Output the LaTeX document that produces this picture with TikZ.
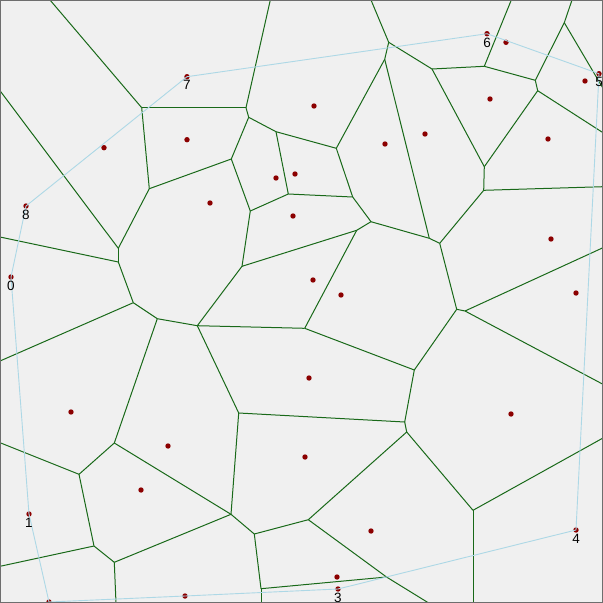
\documentclass[tikz,border=0pt]{standalone}
\usepackage{fontspec}
\setmainfont{Liberation Sans}
\definecolor{bgc}{RGB}{240,240,240}
\definecolor{edgec}{RGB}{25,105,25}
\definecolor{hullc}{RGB}{173,216,230}
\definecolor{dotc}{RGB}{139,0,0}
\definecolor{framec}{RGB}{110,110,110}
\begin{document}
\begin{tikzpicture}[x=1pt,y=-1pt,
  vedge/.style={draw=edgec,line width=1pt},
  hull/.style={draw=hullc,line width=0.9pt,line join=round},
  site/.style={circle,fill=dotc,inner sep=0pt,minimum size=5.4pt},
  lbl/.style={anchor=north,inner sep=0pt,font=\fontsize{13.5}{14}\selectfont,text=black}]
\useasboundingbox (0,0) rectangle (603,603);
\fill[bgc] (0,0) rectangle (603,603);
\begin{scope}
\clip (0,0) rectangle (603,603);
% boundary coordinates
\coordinate (t1) at (50,0);
\coordinate (t2) at (270.3,0);
\coordinate (t3) at (371,0);
\coordinate (t4) at (511.3,0);
\coordinate (t5) at (572,0);
\coordinate (r1) at (603,88.3);
\coordinate (r2) at (603,132.7);
\coordinate (r3) at (603,186.7);
\coordinate (r4) at (603,247.7);
\coordinate (r5) at (603,384.3);
\coordinate (r6) at (603,438);
\coordinate (b1) at (473,603);
\coordinate (b2) at (428.7,603);
\coordinate (b3) at (261,603);
\coordinate (b4) at (116,603);
\coordinate (l1) at (0,90.7);
\coordinate (l2) at (0,237);
\coordinate (l3) at (0,361);
\coordinate (l4) at (0,442.7);
\coordinate (l5) at (0,566.3);
% voronoi vertices
\coordinate (A) at (141.7,107.7);
\coordinate (B) at (246,107.7);
\coordinate (C) at (248.7,117.3);
\coordinate (D) at (276,131.7);
\coordinate (E) at (231.3,159);
\coordinate (F) at (149.3,188.7);
\coordinate (G) at (118.3,248.3);
\coordinate (H) at (118.3,262);
\coordinate (I) at (133.3,302.7);
\coordinate (J) at (157.3,318.7);
\coordinate (K) at (197.3,325.7);
\coordinate (L) at (250.3,211);
\coordinate (M) at (288.3,194);
\coordinate (N) at (336.3,148.3);
\coordinate (O) at (352.7,197);
\coordinate (P) at (371,221.7);
\coordinate (Q) at (356.7,230.3);
\coordinate (R) at (242,266.3);
\coordinate (S) at (304.7,328.3);
\coordinate (T) at (384.7,59.3);
\coordinate (U) at (388.7,42.3);
\coordinate (V) at (432,69);
\coordinate (W) at (484.3,66.3);
\coordinate (X) at (535.3,80.3);
\coordinate (Y) at (537.7,90.7);
\coordinate (Z) at (564.3,22.7);
\coordinate (AA) at (484.3,166.7);
\coordinate (AB) at (483.7,190.3);
\coordinate (AC) at (429.3,238.3);
\coordinate (AD) at (439.7,243.3);
\coordinate (AE) at (456.7,309.3);
\coordinate (AF) at (465,311);
\coordinate (AG) at (414.3,370);
\coordinate (AH) at (404.7,422);
\coordinate (AI) at (406.7,432);
\coordinate (AJ) at (473,510.3);
\coordinate (AK) at (238.7,413);
\coordinate (AN) at (114.3,443);
\coordinate (AO) at (79,474.3);
\coordinate (AP) at (94,546);
\coordinate (AQ) at (114.3,562.3);
\coordinate (AR) at (231,514.3);
\coordinate (AS) at (254.3,534);
\coordinate (AT) at (308.3,519.7);
\coordinate (AU) at (261,588.7);
\coordinate (AV) at (386.5,577);
% voronoi edges
\foreach \a/\b in {t1/A, A/B, B/t2, B/C, C/D, C/E, E/F, F/A, F/G, l1/G, G/H, l2/H, H/I, I/l3, I/J, J/K, J/AN,
  E/L, L/M, L/R, D/M, D/N, M/O, N/O, N/T, T/U, U/t3, U/V, V/W, W/t4, W/X, X/Y, X/Z, Z/t5, Z/r1, Y/r2, Y/AA,
  V/AA, AA/AB, AB/r3, AB/AD, T/AC, O/P, P/Q, P/AC, AC/AD, Q/R, Q/S, R/K, K/S, K/AK, AD/AE, AE/AF, AF/r4, AF/r5,
  AE/AG, S/AG, AG/AH, AK/AH, AH/AI, AI/AT, AI/AJ, AJ/r6, AJ/b1, AN/AO, AN/AR, AO/l4, AO/AP, AP/l5, AP/AQ,
  AQ/AR, AQ/b4, AK/AR, AR/AS, AS/AT, AS/AU, AT/AV, AU/AV, AU/b3, AV/b2}
  {\draw[vedge] (\a) -- (\b);}
% sites
\foreach \p [count=\i] in {(187,139.7), (104,147.7), (210,203), (276,178), (295,174), (293,216), (314,106),
  (385,144), (425,134), (490,99), (548,139), (551,239), (576,293), (313,280), (341,295), (309,378), (511,414),
  (71,412), (168,446), (141,490), (305,457), (371,531), (337,577), (585,81), (506,42.3)}
  {\node[site] (s\i) at \p {};}
% hull points
\node[site] (h0) at (11,277) {};
\node[site] (h1) at (29,514) {};
\node[site] (h2) at (49,602) {};
\node[site] (h2b) at (185,596) {};
\node[site] (h3) at (338,589) {};
\node[site] (h4) at (576,530) {};
\node[site] (h5) at (599,73.7) {};
\node[site] (h6) at (487,33.7) {};
\node[site] (h7) at (187,76.7) {};
\node[site] (h8) at (26,206) {};
\draw[hull] (h0.center) -- (h1.center) -- (h2.center) -- (h2b.center) -- (h3.center) -- (h4.center)
  -- (h5.center) -- (h6.center) -- (h7.center) -- (h8.center) -- cycle;
% labels
\node[lbl] (n0) at ([yshift=-3.8pt]h0.center) {0};
\node[lbl] (n1) at ([yshift=-3.8pt]h1.center) {1};
\node[lbl] (n3) at ([yshift=-3.8pt]h3.center) {3};
\node[lbl] (n4) at ([yshift=-3.8pt]h4.center) {4};
\node[lbl] (n5) at ([yshift=-3.8pt]h5.center) {5};
\node[lbl] (n6) at ([yshift=-3.8pt]h6.center) {6};
\node[lbl] (n7) at ([yshift=-3.8pt]h7.center) {7};
\node[lbl] (n8) at ([yshift=-3.8pt]h8.center) {8};
\end{scope}
\draw[framec,line width=1.2pt] (0.6,0.6) rectangle (602.4,602.4);
\end{tikzpicture}
\end{document}
